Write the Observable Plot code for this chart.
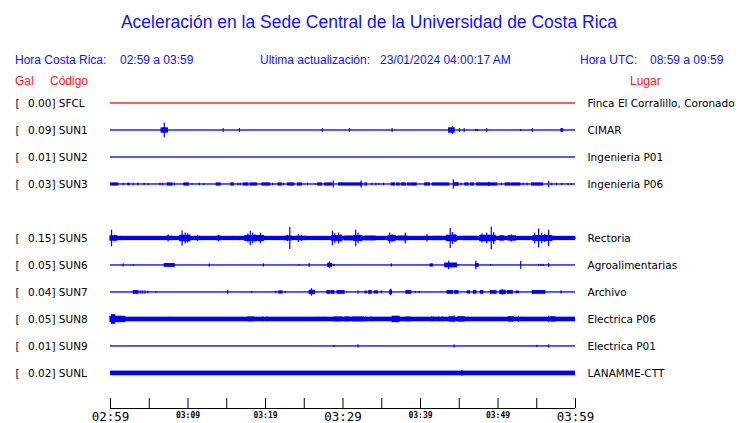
<!DOCTYPE html>
<html>
<head>
<meta charset="utf-8">
<script src="https://cdn.jsdelivr.net/npm/d3@7"></script>
<script src="https://cdn.jsdelivr.net/npm/@observablehq/plot@0.6"></script>
<style>
  body { margin: 0; background: #fff; }
  #wrap { position: relative; width: 740px; height: 423px; overflow: hidden; font-family: "Liberation Sans", Arial, sans-serif; }
  .t { position: absolute; line-height: 1; white-space: pre; }
  .blue { color: #1010ff; font-size: 12px; }
  .red { color: #ff1010; font-size: 12px; }
  #chart { position: absolute; left: 0; top: 90px; }
</style>
</head>
<body>
<div id="wrap">
  <div class="t" style="left:0;width:738px;text-align:center;top:13.5px;font-size:17.5px;color:#1010ff;">Aceleración en la Sede Central de la Universidad de Costa Rica</div>
  <div class="t blue" style="left:15px;top:54px;">Hora Costa Rica:</div>
  <div class="t blue" style="left:120px;top:54px;">02:59 a 03:59</div>
  <div class="t blue" style="left:260px;top:54px;">Ultima actualización:</div>
  <div class="t blue" style="left:380px;top:54px;">23/01/2024 04:00:17 AM</div>
  <div class="t blue" style="left:580px;top:54px;">Hora UTC:</div>
  <div class="t blue" style="left:650px;top:54px;">08:59 a 09:59</div>
  <div class="t red" style="left:15px;top:74.5px;">Gal</div>
  <div class="t red" style="left:50px;top:74.5px;">Código</div>
  <div class="t red" style="left:630px;top:74.5px;">Lugar</div>
  <div id="chart"></div>
</div>
<script>
// ---- data ----
const codes  = ["SFCL", "SUN1", "SUN2", "SUN3", "SUN5", "SUN6", "SUN7", "SUN8", "SUN9", "SUNL"];
const rows   = [0, 1, 2, 3, 5, 6, 7, 8, 9, 10];
const gal    = [0.00, 0.09, 0.01, 0.03, 0.15, 0.05, 0.04, 0.05, 0.01, 0.02];
const places = ["Finca El Corralillo, Coronado", "CIMAR", "Ingenieria P01", "Ingenieria P06", "Rectoria",
                "Agroalimentarias", "Archivo", "Electrica P06", "Electrica P01", "LANAMME-CTT"];
const traceColors = ["#ff0000", "#0000ff", "#0000ff", "#0000ff", "#0000ff", "#0000ff", "#0000ff", "#0000ff", "#0000ff", "#0000ff"];
// baseline half-thickness (fraction of trace spacing)
const noise  = [0, 0, 0, 0, 0.055, 0, 0, 0.06, 0, 0.062];

// bursts: [start minute, end minute, half amplitude (fraction of trace spacing)]
const burstsSFCL = [];
const burstsSUN1 = [
  [6.6, 7.4, 0.1], [7.0, 7.0, 0.27], [14.6, 14.6, 0.07], [16.7, 16.7, 0.07], [27.4, 27.4, 0.07],
  [30.9, 30.9, 0.07], [36.4, 36.4, 0.07], [43.7, 44.4, 0.1], [44.2, 44.2, 0.15], [45.1, 45.1, 0.07],
  [45.7, 45.7, 0.07], [47.2, 47.2, 0.04], [47.4, 47.4, 0.04], [48.6, 48.6, 0.07], [53.0, 53.0, 0.04],
  [54.5, 54.5, 0.07], [58.2, 58.4, 0.07]
];
const burstsSUN2 = [];
const burstsSUN3 = [
  [0.1, 1.0, 0.06], [1.7, 1.7, 0.05], [2.3, 2.45, 0.05], [3.0, 3.0, 0.05], [3.6, 3.6, 0.05], [4.4, 4.4, 0.05],
  [4.9, 4.9, 0.04], [6.45, 6.45, 0.05], [6.8, 6.8, 0.05], [7.4, 8.0, 0.06], [8.3, 8.3, 0.05], [9.55, 10.1, 0.06],
  [10.6, 10.6, 0.03], [11.5, 11.5, 0.05], [12.1, 12.1, 0.04], [13.7, 14.2, 0.06], [15.6, 15.9, 0.06],
  [16.5, 16.5, 0.05], [16.8, 16.8, 0.05], [17.2, 17.8, 0.06], [18.1, 18.9, 0.06], [19.6, 20.6, 0.06],
  [21.0, 21.0, 0.05], [21.7, 22.1, 0.06], [22.4, 22.4, 0.05], [22.9, 23.7, 0.06], [24.2, 24.7, 0.06],
  [25.5, 25.5, 0.05], [26.5, 26.5, 0.03], [26.8, 27.3, 0.06], [27.7, 28.6, 0.06], [28.8, 28.8, 0.13],
  [29.5, 32.5, 0.06], [32.4, 32.4, 0.13], [32.9, 33.1, 0.06], [33.8, 33.8, 0.05], [34.3, 34.3, 0.05],
  [34.7, 34.7, 0.04], [35.3, 35.3, 0.05], [36.3, 36.7, 0.06], [37.0, 37.3, 0.06], [37.6, 38.1, 0.06],
  [38.4, 38.6, 0.06], [38.8, 39.5, 0.06], [40.6, 41.2, 0.06], [41.6, 43.7, 0.06], [44.3, 44.3, 0.17],
  [44.5, 44.9, 0.07], [45.3, 45.3, 0.05], [45.8, 46.2, 0.06], [46.5, 46.9, 0.06], [47.3, 49.9, 0.06],
  [48.9, 48.9, 0.08], [50.5, 50.5, 0.05], [51.0, 51.6, 0.06], [51.8, 52.9, 0.06], [53.3, 53.3, 0.05],
  [53.8, 53.8, 0.05], [54.4, 55.8, 0.06], [56.6, 56.6, 0.12], [57.0, 57.0, 0.05], [57.6, 57.6, 0.05],
  [58.3, 58.3, 0.04], [59.1, 59.1, 0.04], [59.5, 59.5, 0.04]
];
const burstsSUN5 = [
  [0.0, 0.9, 0.1], [0.2, 0.2, 0.31], [0.56, 0.56, 0.12], [0.77, 0.77, 0.1], [1.5, 1.5, 0.08], [6.0, 6.0, 0.07],
  [7.3, 8.0, 0.08], [7.5, 7.5, 0.13],
  [9.0, 10.3, 0.12], [9.3, 9.3, 0.28], [9.7, 9.7, 0.2], [10.0, 10.0, 0.17], [10.2, 10.2, 0.12],
  [11.0, 11.6, 0.08], [11.3, 11.3, 0.11], [13.8, 14.2, 0.09], [14.0, 14.0, 0.12], [15.9, 15.9, 0.08],
  [17.4, 19.8, 0.11], [17.8, 17.8, 0.16], [18.1, 18.1, 0.27], [18.4, 18.4, 0.2], [18.7, 18.7, 0.14],
  [19.4, 19.4, 0.2], [19.6, 19.6, 0.12], [21.1, 21.1, 0.06],
  [22.6, 23.4, 0.09], [22.9, 22.9, 0.12], [23.2, 23.2, 0.41], [24.1, 25.2, 0.08], [24.3, 24.3, 0.15],
  [24.7, 24.7, 0.12], [27.1, 27.1, 0.06],
  [28.6, 29.9, 0.11], [28.7, 28.7, 0.27], [29.0, 29.0, 0.18], [29.5, 29.5, 0.2], [29.8, 29.8, 0.14],
  [30.3, 31.2, 0.09], [31.4, 32.5, 0.11], [31.7, 31.7, 0.31], [32.0, 32.0, 0.2], [32.4, 32.4, 0.12],
  [32.9, 34.2, 0.09], [35.9, 36.8, 0.11], [36.1, 36.1, 0.2], [36.4, 36.4, 0.14],
  [37.2, 38.3, 0.09], [38.1, 38.1, 0.2], [38.7, 40.4, 0.07], [40.9, 40.9, 0.14], [41.7, 42.8, 0.08],
  [43.4, 44.7, 0.12], [43.9, 43.9, 0.37], [44.2, 44.2, 0.22], [44.5, 44.5, 0.15],
  [45.6, 47.3, 0.08], [47.7, 49.7, 0.12], [48.0, 48.0, 0.17], [48.6, 48.6, 0.2], [49.2, 49.2, 0.42],
  [49.5, 49.5, 0.22], [50.3, 50.8, 0.1], [51.4, 52.3, 0.1], [51.8, 51.8, 0.13], [53.8, 53.8, 0.06],
  [54.6, 57.0, 0.11], [54.8, 54.8, 0.2], [55.3, 55.3, 0.35], [55.7, 55.7, 0.2], [56.1, 56.1, 0.15],
  [56.6, 56.6, 0.3], [57.4, 57.4, 0.08], [58.7, 60.0, 0.04]
];
const burstsSUN6 = [
  [1.7, 1.7, 0.06], [3.0, 3.0, 0.03], [7.0, 8.3, 0.07], [12.8, 12.8, 0.06], [19.8, 19.8, 0.06],
  [24.4, 24.4, 0.03], [25.7, 25.7, 0.07], [28.1, 28.6, 0.08], [28.3, 28.3, 0.12], [28.9, 28.9, 0.04],
  [36.3, 36.3, 0.06], [41.3, 41.6, 0.06], [43.2, 44.7, 0.09], [43.7, 43.7, 0.16], [44.9, 44.9, 0.03],
  [47.2, 47.5, 0.07], [47.2, 47.2, 0.16], [49.1, 49.1, 0.03], [53.0, 53.0, 0.15], [55.3, 55.3, 0.04],
  [55.6, 55.6, 0.04], [55.9, 55.9, 0.04], [56.6, 56.6, 0.07]
];
const burstsSUN7 = [
  [3.0, 3.6, 0.07], [3.9, 3.9, 0.06], [4.2, 4.2, 0.06], [4.5, 4.5, 0.06], [4.9, 4.9, 0.05], [5.9, 5.9, 0.03],
  [15.2, 15.2, 0.07], [18.3, 18.3, 0.04], [21.4, 21.4, 0.05], [21.8, 22.2, 0.06], [22.6, 22.6, 0.04],
  [25.7, 26.4, 0.08], [26.0, 26.0, 0.14], [28.0, 28.3, 0.07], [28.5, 28.9, 0.07], [29.3, 30.2, 0.07],
  [32.0, 32.0, 0.06], [32.9, 33.1, 0.05], [33.4, 33.7, 0.07], [34.1, 34.5, 0.06], [35.0, 35.0, 0.06],
  [36.1, 36.3, 0.09], [36.2, 36.2, 0.12], [38.2, 38.8, 0.07], [39.4, 39.4, 0.04], [39.9, 39.9, 0.04],
  [43.5, 44.2, 0.07], [44.5, 44.9, 0.07], [46.1, 46.4, 0.06], [46.9, 47.2, 0.07], [47.8, 48.1, 0.07],
  [49.1, 49.8, 0.07], [50.3, 51.0, 0.08], [50.6, 50.6, 0.1], [51.3, 51.9, 0.07], [52.4, 52.7, 0.05],
  [54.5, 56.1, 0.07], [58.2, 58.2, 0.06]
];
const burstsSUN8 = [
  [0.0, 1.9, 0.12], [0.2, 0.6, 0.18], [7.7, 7.7, 0.08], [13.0, 13.0, 0.07], [17.8, 18.5, 0.09],
  [19.7, 19.7, 0.09], [20.3, 20.3, 0.09], [21.2, 21.2, 0.07], [26.9, 26.9, 0.08], [27.7, 27.7, 0.08],
  [28.9, 29.9, 0.09], [30.3, 30.8, 0.09], [31.3, 32.7, 0.09], [33.0, 33.0, 0.09], [33.7, 33.7, 0.09],
  [36.4, 37.3, 0.12], [38.2, 38.7, 0.09], [41.5, 41.5, 0.09], [41.8, 41.8, 0.09], [42.4, 42.4, 0.09],
  [42.9, 42.9, 0.09], [43.8, 44.3, 0.1], [44.4, 44.4, 0.13], [44.9, 45.7, 0.1], [46.1, 46.1, 0.08],
  [48.1, 48.1, 0.07], [49.9, 49.9, 0.07], [51.4, 52.0, 0.1], [52.7, 52.7, 0.12], [53.2, 53.2, 0.08],
  [55.2, 55.2, 0.07], [56.6, 56.6, 0.12], [56.9, 57.4, 0.1], [59.4, 59.4, 0.07]
];
const burstsSUN9 = [
  [28.9, 28.9, 0.04], [32.0, 32.0, 0.06], [44.4, 44.4, 0.06], [55.1, 55.1, 0.04], [56.6, 56.6, 0.06]
];
const burstsSUNL = [[45.4, 45.4, 0.11]];
const bursts = [burstsSFCL, burstsSUN1, burstsSUN2, burstsSUN3, burstsSUN5, burstsSUN6,
                burstsSUN7, burstsSUN8, burstsSUN9, burstsSUNL];

// time axis (minutes after 02:59)
const tickMinutes = [0, 5, 10, 15, 20, 25, 30, 35, 40, 45, 50, 55, 60];
const labelMinutes = [0, 10, 20, 30, 40, 50, 60];
const labelTexts = ["02:59", "03:09", "03:19", "03:29", "03:39", "03:49", "03:59"];
const labelBig = [true, false, false, true, false, false, true];
const xDomain = [0, 60];
const yDomain = [0, 11.3];

// ---- build tables ----
const stations = codes.map((c, i) => ({code: c, row: rows[i], gal: gal[i], place: places[i], color: traceColors[i], noise: noise[i]}));
const burstTable = stations.flatMap((s, i) => bursts[i].map(([t1, t2, a]) => ({t1, t2, y1: s.row - a, y2: s.row + a, color: s.color})));
const labels = labelMinutes.map((m, i) => ({m, text: labelTexts[i], big: labelBig[i]}));

const chart = Plot.plot({
  width: 740,
  height: 333,
  marginLeft: 110,
  marginRight: 165,
  marginTop: 13,
  marginBottom: 15,
  x: {domain: xDomain, axis: null},
  y: {domain: yDomain, reverse: true, axis: null},
  style: {fontFamily: "DejaVu Sans", fontSize: "10.5px", color: "#000", background: "#fff"},
  marks: [
    Plot.rect(stations, {x1: xDomain[0], x2: xDomain[1], y1: d => d.row - d.noise, y2: d => d.row + d.noise,
      fill: d => d.color, insetTop: -0.65, insetBottom: -0.65}),
    Plot.rect(burstTable, {x1: "t1", x2: "t2", y1: "y1", y2: "y2", fill: d => d.color,
      insetLeft: -0.6, insetRight: -0.6}),
    Plot.text(stations, {y: "row", text: () => "[", frameAnchor: "left", dx: -95, textAnchor: "start", fill: "#000"}),
    Plot.text(stations, {y: "row", text: d => `${d.gal.toFixed(2)}] ${d.code}`, frameAnchor: "left", dx: -82.5, textAnchor: "start", fill: "#000"}),
    Plot.text(stations, {y: "row", text: "place", frameAnchor: "right", dx: 12, textAnchor: "start", fill: "#000"}),
    Plot.ruleY([yDomain[1]], {stroke: "#000", strokeWidth: 1}),
    Plot.ruleX(tickMinutes, {stroke: "#000", strokeWidth: 1, insetTop: 295}),
    Plot.text(labels.filter(d => d.big), {x: "m", text: "text", frameAnchor: "bottom", lineAnchor: "middle", dy: 8.5, fontFamily: "DejaVu Sans Mono", fontSize: 12.5, fill: "#000"}),
    Plot.text(labels.filter(d => !d.big), {x: "m", text: "text", frameAnchor: "bottom", lineAnchor: "middle", dy: 7, fontFamily: "DejaVu Sans Mono", fontSize: 8, fontWeight: "bold", fill: "#000"})
  ]
});
document.getElementById("chart").appendChild(chart);
</script>
</body>
</html>
